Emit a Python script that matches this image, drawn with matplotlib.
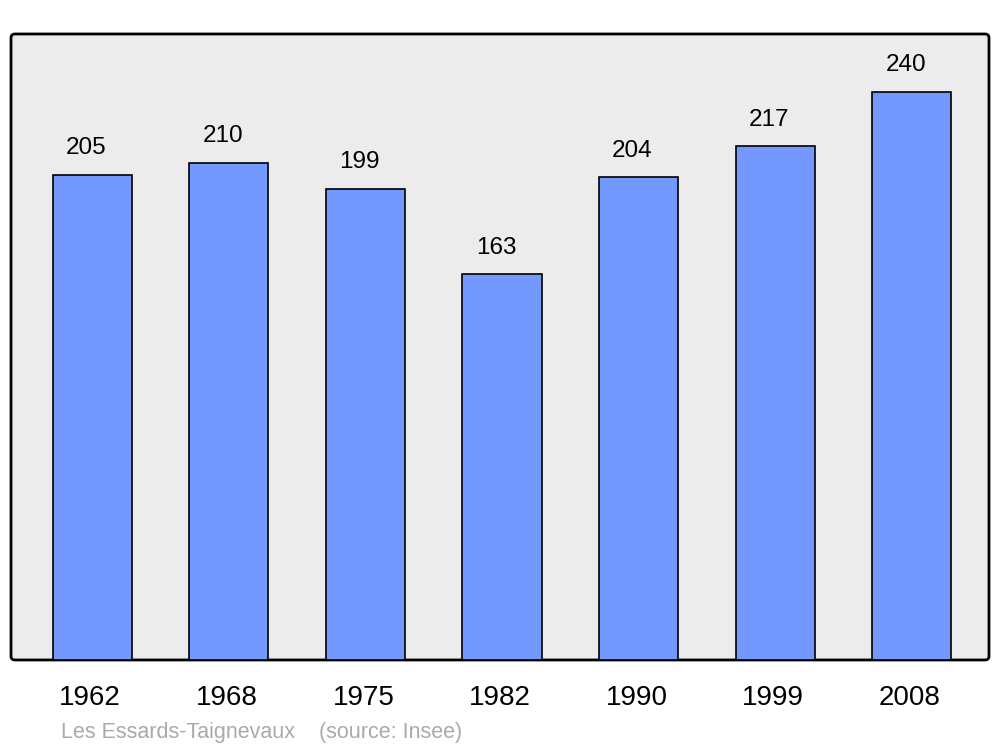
import matplotlib.pyplot as plt
from matplotlib.patches import FancyBboxPatch

years = ["1962", "1968", "1975", "1982", "1990", "1999", "2008"]
population = [205, 210, 199, 163, 204, 217, 240]
commune = "Les Essards-Taignevaux"
source = "(source: Insee)"

fig = plt.figure(figsize=(10, 7.47), dpi=100)
ax = fig.add_axes([0.011, 0.1165, 0.978, 0.838])
ax.set_facecolor('none')

# rounded grey frame
frame = FancyBboxPatch((0, 0), 1, 1, boxstyle="round,pad=0,rounding_size=0.004",
                       mutation_aspect=0.978 * 1000 / (0.838 * 747),
                       transform=ax.transAxes, facecolor='#ececec',
                       edgecolor='black', linewidth=2, clip_on=False, zorder=0)
ax.add_patch(frame)

x = range(len(years))
ax.bar(x, population, width=0.58, color='#7399ff', edgecolor='black',
       linewidth=1.2, zorder=2)

for i, v in zip(x, population):
    ax.text(i - 0.045, v + 6.6, str(v), ha='center', va='bottom', fontsize=17.5,
            family='Liberation Sans')

ax.set_xlim(-0.595, 6.565)
ax.set_ylim(0, 264.5)
ax.set_yticks([])
ax.set_xticks([i - 0.015 for i in x])
ax.set_xticklabels(years, fontsize=20, family='Liberation Sans')
ax.tick_params(axis='x', length=0, pad=18)
for s in ax.spines.values():
    s.set_visible(False)

fig.text(0.061, 0.005, commune + "    " + source, fontsize=15.5, color='#aaaaaa',
         family='Liberation Sans', ha='left', va='bottom')

fig.savefig('out.png', dpi=100)
